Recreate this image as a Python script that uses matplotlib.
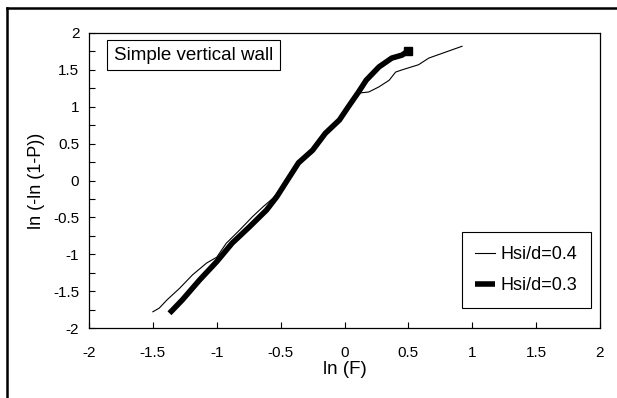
import matplotlib
matplotlib.use("Agg")
import matplotlib.pyplot as plt
from matplotlib.lines import Line2D
from matplotlib.ticker import MultipleLocator

plt.rcParams['font.family'] = ['Liberation Sans', 'DejaVu Sans']

# Hsi/d = 0.3 (thick)
x_03 = [-1.37, -1.27, -1.135, -1.0, -0.88, -0.745, -0.61, -0.53, -0.46, -0.36,
        -0.25, -0.15, -0.04, 0.03, 0.11, 0.17, 0.27, 0.37, 0.45, 0.50]
y_03 = [-1.80, -1.62, -1.35, -1.10, -0.85, -0.63, -0.40, -0.22, -0.03, 0.24,
        0.41, 0.64, 0.82, 1.00, 1.20, 1.36, 1.54, 1.66, 1.70, 1.76]

# Hsi/d = 0.4 (thin)
x_04 = [-1.50, -1.45, -1.39, -1.29, -1.19, -1.08, -1.0, -0.925, -0.82, -0.72,
        -0.64, -0.56, -0.46, -0.36, -0.25, -0.15, -0.04, 0.03, 0.10, 0.135,
        0.19, 0.27, 0.35, 0.40, 0.45, 0.58, 0.66, 0.79, 0.92]
y_04 = [-1.78, -1.73, -1.62, -1.46, -1.28, -1.12, -1.04, -0.85, -0.67, -0.49,
        -0.36, -0.24, -0.03, 0.24, 0.41, 0.64, 0.82, 1.00, 1.18, 1.19,
        1.20, 1.27, 1.36, 1.47, 1.50, 1.57, 1.66, 1.74, 1.82]

labels = ["Hsi/d=0.4", "Hsi/d=0.3"]
x_ticks = [-2, -1.5, -1, -0.5, 0, 0.5, 1, 1.5, 2]
y_ticks = [-2, -1.5, -1, -0.5, 0, 0.5, 1, 1.5, 2]

fig = plt.figure(figsize=(6.17, 3.98), dpi=100)
ax = fig.add_axes([89/617, 1-328/398, (600-89)/617, (328-33)/398])

ax.plot(x_04, y_04, color='black', lw=0.8, label=labels[0], zorder=2)
ax.plot(x_03, y_03, color='black', lw=4.0, solid_capstyle='butt',
        label=labels[1], zorder=3)
ax.plot(x_03[-1:], y_03[-1:], marker='s', color='black', ms=6, ls='none', zorder=3)

ax.set_xlim(-2, 2)
ax.set_ylim(-2, 2)
ax.set_xticks(x_ticks)
ax.set_xticklabels([f"{t:g}" for t in x_ticks])
ax.set_yticks(y_ticks)
ax.set_yticklabels([f"{t:g}" for t in y_ticks])
ax.yaxis.set_minor_locator(MultipleLocator(0.25))
ax.tick_params(axis='both', direction='in', length=4, width=0.8, labelsize=11)
ax.tick_params(axis='x', pad=13)
ax.tick_params(axis='y', pad=7)
ax.tick_params(axis='y', which='minor', direction='in', length=4, width=0.8)
ax.tick_params(axis='x', top=False)
ax.tick_params(axis='y', right=False)
for s in ax.spines.values():
    s.set_linewidth(0.9)
    s.set_color('black')

ax.set_xlabel("ln (F)", fontsize=13.5, labelpad=1)
ax.set_ylabel("ln (-ln (1-P))", fontsize=13, labelpad=6)

ax.text(0.049, 0.953, "Simple vertical wall", transform=ax.transAxes,
        fontsize=13.5, va='top', ha='left',
        bbox=dict(boxstyle='square,pad=0.35', fc='white', ec='black', lw=0.8))

leg = ax.legend(loc='lower right', bbox_to_anchor=(0.982, 0.068),
                borderaxespad=0, fontsize=13, handlelength=1.1,
                handletextpad=0.3, fancybox=False, edgecolor='black',
                framealpha=1, borderpad=0.75, labelspacing=0.8)
leg.get_frame().set_linewidth(0.8)

fig.add_artist(Line2D([7/617, 7/617], [0, 1-8/398], color='black', lw=1.8,
                      transform=fig.transFigure))
fig.add_artist(Line2D([7/617, 1], [1-8/398, 1-8/398], color='black', lw=1.8,
                      transform=fig.transFigure))

fig.savefig("out.png", dpi=100)
